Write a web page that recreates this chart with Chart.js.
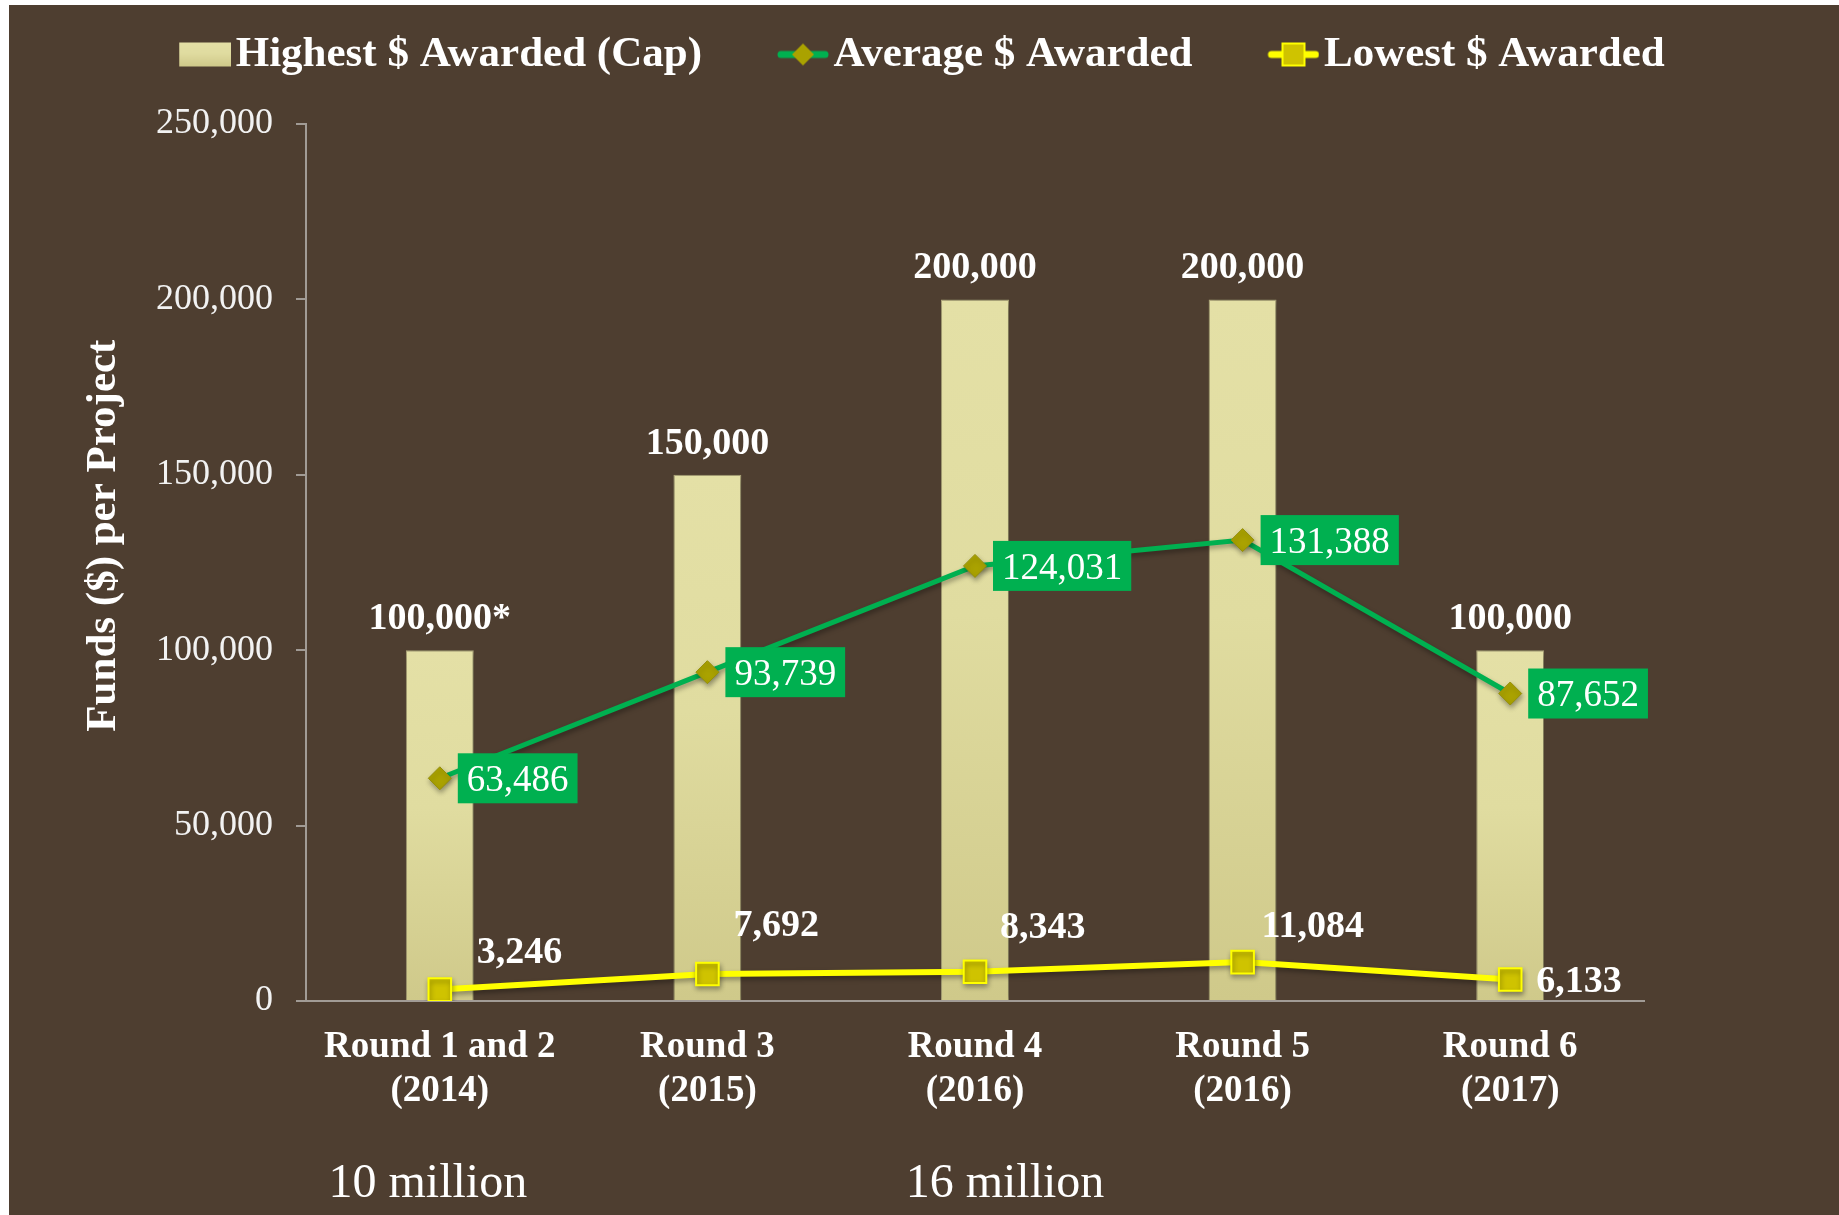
<!DOCTYPE html>
<html>
<head>
<meta charset="utf-8">
<title>Funds per Project</title>
<script src="https://cdn.jsdelivr.net/npm/chart.js@4.4.1/dist/chart.umd.min.js"></script>
<style>
  html, body { margin: 0; padding: 0; background: #fff; }
  #wrap { position: absolute; left: 9px; top: 5px; width: 1830px; height: 1210px; background: #4e3e30; }
</style>
</head>
<body>
<div id="wrap"><canvas id="fundsChart"></canvas></div>
<script>
// data
const rounds = [['Round 1 and 2', '(2014)'], ['Round 3', '(2015)'], ['Round 4', '(2016)'], ['Round 5', '(2016)'], ['Round 6', '(2017)']];
const totalFunds = ['10 million  ', '', '     16 million', '', ''];
const highest = [100000, 150000, 200000, 200000, 100000];
const highestNotes = ['*', '', '', '', ''];
const average = [63486, 93739, 124031, 131388, 87652];
const lowest = [3246, 7692, 8343, 11084, 6133];
const seriesNames = ['Highest $ Awarded (Cap)', 'Average $ Awarded', 'Lowest $ Awarded'];
const yMax = 250000;
const yStep = 50000;

// where the "lowest" labels sit relative to their point (px)
const lowLabelOffsets = [[37, -36], [26, -48], [25, -44], [19, -35], [26, 3]];

const serif = '"Liberation Serif", "Times New Roman", serif';
const fmt = v => v.toLocaleString('en-US');

Chart.defaults.color = '#ffffff';

function barGradient(ctx, top, bottom) {
    const g = ctx.createLinearGradient(0, top, 0, bottom);
    g.addColorStop(0, '#e4e0a6');
    g.addColorStop(0.45, '#e0dca0');
    g.addColorStop(1, '#cfc98a');
    return g;
}

// legend swatches: transparent on the left so the text sits close to the mark
function makeSwatch(kind) {
    const c = document.createElement('canvas');
    c.width = 116;
    c.height = 28;
    const g = c.getContext('2d');
    const x0 = 64, w = 52, cy = 14;
    if (kind === 'bar') {
        g.fillStyle = barGradient(g, 2, 26);
        g.fillRect(x0, 2, w, 24);
    } else {
        g.lineCap = 'round';
        g.lineWidth = 7;
        g.strokeStyle = kind === 'avg' ? '#00b050' : '#ffff00';
        g.beginPath();
        g.moveTo(x0 + 4, cy);
        g.lineTo(x0 + w - 4, cy);
        g.stroke();
        const mx = x0 + w / 2;
        if (kind === 'avg') {
            g.fillStyle = '#aaa200';
            g.beginPath();
            g.moveTo(mx, cy - 11);
            g.lineTo(mx + 11, cy);
            g.lineTo(mx, cy + 11);
            g.lineTo(mx - 11, cy);
            g.closePath();
            g.fill();
        } else {
            g.fillStyle = '#cfc300';
            g.fillRect(mx - 11, cy - 11, 22, 22);
            g.lineWidth = 2;
            g.strokeStyle = '#ffff00';
            g.strokeRect(mx - 11, cy - 11, 22, 22);
        }
    }
    return c;
}
const swatches = [makeSwatch('bar'), makeSwatch('avg'), makeSwatch('low')];

const layoutTweaks = {
    id: 'layoutTweaks',
    beforeLayout(chart) {
        const legend = chart.legend;
        if (legend && !legend._fixed) {
            const fit = legend.fit;
            legend.fit = function () {
                fit.call(this);
                this.height = 119;
            };
            legend._fixed = true;
        }
    },
    afterLayout(chart) {
        chart.legend.left -= 25.5;
        chart.legend.right -= 25.5;
    },
    beforeDatasetDraw(chart, args) {
        const ctx = chart.ctx;
        ctx.save();
        if (args.index === 0) {
            ctx.shadowColor = 'rgba(0, 0, 0, 0.5)';
            ctx.shadowBlur = 8;
            ctx.shadowOffsetX = 2;
            ctx.shadowOffsetY = 2;
        } else {
            ctx.shadowColor = 'rgba(0, 0, 0, 0.35)';
            ctx.shadowBlur = 5;
            ctx.shadowOffsetX = 1;
            ctx.shadowOffsetY = 3;
        }
    },
    afterDatasetDraw(chart) {
        chart.ctx.restore();
    }
};

const valueLabels = {
    id: 'valueLabels',
    afterDatasetsDraw(chart) {
        const ctx = chart.ctx;
        ctx.save();
        ctx.textBaseline = 'middle';

        // caps above the bars
        ctx.font = 'bold 38px ' + serif;
        ctx.textAlign = 'center';
        ctx.fillStyle = '#ffffff';
        chart.getDatasetMeta(0).data.forEach((bar, i) => {
            ctx.fillText(fmt(highest[i]) + highestNotes[i], bar.x, bar.y - 31);
        });

        // averages in green boxes
        ctx.font = '37px ' + serif;
        ctx.textAlign = 'left';
        chart.getDatasetMeta(1).data.forEach((pt, i) => {
            const text = fmt(average[i]);
            const w = ctx.measureText(text).width + 18;
            const bx = pt.x + 18;
            ctx.fillStyle = '#00b050';
            ctx.fillRect(bx, pt.y - 25, w, 50);
            ctx.fillStyle = '#ffffff';
            ctx.fillText(text, bx + 9, pt.y + 3);
        });

        // lowest values
        ctx.font = 'bold 38px ' + serif;
        chart.getDatasetMeta(2).data.forEach((pt, i) => {
            ctx.fillText(fmt(lowest[i]), pt.x + lowLabelOffsets[i][0], pt.y + lowLabelOffsets[i][1]);
        });
        ctx.restore();
    }
};

const ctx = document.getElementById('fundsChart').getContext('2d');
new Chart(ctx, {
    type: 'bar',
    data: {
        labels: rounds,
        datasets: [{
            type: 'bar',
            label: seriesNames[0],
            data: highest,
            backgroundColor: function (c) {
                const area = c.chart.chartArea;
                if (!area || c.dataIndex === undefined) return '#dcd79a';
                const top = c.chart.scales.y.getPixelForValue(highest[c.dataIndex]);
                return barGradient(c.chart.ctx, top, area.bottom);
            },
            borderColor: '#b9b282',
            borderWidth: 1,
            categoryPercentage: 1,
            barPercentage: 0.254,
            order: 3
        }, {
            type: 'line',
            label: seriesNames[1],
            data: average,
            borderColor: '#00b050',
            borderWidth: 5,
            pointStyle: 'rectRot',
            pointRadius: 11.5,
            pointBackgroundColor: '#aaa200',
            pointBorderColor: '#96900a',
            pointBorderWidth: 1,
            tension: 0,
            order: 1
        }, {
            type: 'line',
            label: seriesNames[2],
            data: lowest,
            borderColor: '#ffff00',
            borderWidth: 6,
            pointStyle: 'rect',
            pointRadius: 16,
            pointBackgroundColor: '#cfc300',
            pointBorderColor: '#ffff00',
            pointBorderWidth: 2,
            tension: 0,
            order: 2
        }]
    },
    options: {
        responsive: true,
        maintainAspectRatio: false,
        animation: false,
        layout: { padding: { top: 0, left: 0, right: 0, bottom: 6 } },
        plugins: {
            tooltip: { enabled: false },
            legend: {
                position: 'top',
                labels: {
                    color: '#ffffff',
                    font: { family: serif, size: 43, weight: 'bold' },
                    padding: 28,
                    usePointStyle: true,
                    pointStyleWidth: 82,
                    generateLabels: () => seriesNames.map((name, i) => ({
                        text: name,
                        pointStyle: swatches[i],
                        fontColor: '#ffffff',
                        fillStyle: 'transparent',
                        strokeStyle: 'transparent',
                        lineWidth: 0,
                        hidden: false,
                        datasetIndex: i
                    }))
                }
            }
        },
        scales: {
            x: {
                type: 'category',
                ticks: { color: '#ffffff', font: { family: serif, size: 37, weight: 'bold' }, padding: 24, maxRotation: 0, autoSkip: false },
                grid: { display: false, drawTicks: false },
                border: { color: '#a19b95', width: 2 },
                afterFit: s => { s.height = 108; }
            },
            x2: {
                type: 'category',
                labels: totalFunds,
                position: 'bottom',
                offset: true,
                weight: 1,
                ticks: { color: '#ffffff', font: { family: serif, size: 48 }, padding: 47, maxRotation: 0, autoSkip: false },
                grid: { display: false, drawTicks: false },
                border: { display: false },
                afterFit: s => { s.height = 100; }
            },
            y: {
                min: 0,
                max: yMax,
                ticks: { stepSize: yStep, color: '#f2f2f2', font: { family: serif, size: 36 }, padding: 23, callback: v => fmt(v) },
                grid: { drawOnChartArea: false, color: '#a19b95', lineWidth: 2, tickLength: 10 },
                border: { color: '#a19b95', width: 2 },
                title: {
                    display: true,
                    text: '     Funds ($) per Project',
                    color: '#ffffff',
                    font: { family: serif, size: 43, weight: 'bold' },
                    padding: { top: 69, bottom: 0 }
                },
                afterFit: s => { s.width = 297; }
            },
            yr: {
                type: 'linear',
                position: 'right',
                ticks: { display: false },
                grid: { display: false, drawTicks: false },
                border: { display: false },
                afterFit: s => { s.width = 195; }
            }
        }
    },
    plugins: [layoutTweaks, valueLabels]
});
</script>
</body>
</html>
